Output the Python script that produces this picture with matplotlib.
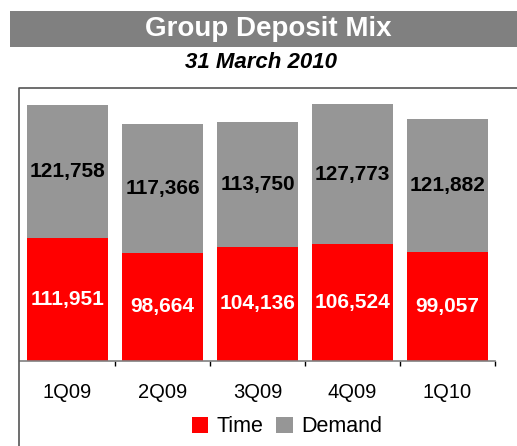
import matplotlib
matplotlib.use('Agg')
import matplotlib.pyplot as plt
from matplotlib.patches import Rectangle
from matplotlib.lines import Line2D
import numpy as np

# --- Data ---
quarters = ['1Q09', '2Q09', '3Q09', '4Q09', '1Q10']
time_dep = [111951, 98664, 104136, 106524, 99057]
demand_dep = [121758, 117366, 113750, 127773, 121882]

RED = '#ff0000'
GREY = '#969696'
W, H = 517, 446

plt.rcParams['font.family'] = ['Liberation Sans', 'DejaVu Sans']

fig = plt.figure(figsize=(W / 100, H / 100), dpi=100)

# title bar
fig.patches.append(Rectangle((10 / W, 1 - 47 / H), (W - 10) / W, 36 / H,
                             transform=fig.transFigure, facecolor='#808080',
                             edgecolor='none'))
fig.text(268 / W, 1 - 29 / H, 'Group Deposit Mix', color='white',
         fontsize=20, fontweight='bold', ha='center', va='center')
fig.text(261 / W, 1 - 63 / H, '31 March 2010', color='black',
         fontsize=16, fontweight='bold', style='italic', ha='center', va='center')

# chart frame (left and top edges)
fig.add_artist(Line2D([19 / W, 19 / W, 1], [0, 1 - 88 / H, 1 - 88 / H],
                      transform=fig.transFigure, color='#555555', lw=1.2))

# --- Plot ---
ax = fig.add_axes([20 / W, (H - 361) / H, 475 / W, (361 - 88) / H])
x = np.arange(len(quarters))
b1 = ax.bar(x, time_dep, width=0.85, color=RED, label='Time')
b2 = ax.bar(x, demand_dep, width=0.85, bottom=time_dep, color=GREY, label='Demand')

for i in range(len(quarters)):
    ax.text(x[i], time_dep[i] / 2, f'{time_dep[i]:,}', color='white',
            fontsize=15, fontweight='bold', ha='center', va='center')
    ax.text(x[i], time_dep[i] + demand_dep[i] / 2, f'{demand_dep[i]:,}',
            color='black', fontsize=15, fontweight='bold', ha='center', va='center')

ax.set_xlim(-0.5, len(quarters) - 0.5)
ax.set_ylim(0, 249200)
ax.set_yticks([])
for s in ['left', 'right', 'top']:
    ax.spines[s].set_visible(False)
ax.spines['bottom'].set_color('#808080')
ax.spines['bottom'].set_linewidth(1.2)

ax.set_xticks(x)
ax.set_xticklabels(quarters, fontsize=14.5)
ax.tick_params(axis='x', which='major', length=0, pad=16)
ax.set_xticks(np.arange(0.5, len(quarters)), minor=True)
ax.tick_params(axis='x', which='minor', length=3.5, width=1, color='black', direction='out')
ax.patch.set_alpha(0)

fig.legend(handles=[b1, b2], loc='center', bbox_to_anchor=(287 / W, 1 - 427 / H),
           ncol=2, frameon=False, fontsize=15.5, handlelength=0.75, handleheight=0.75,
           handletextpad=0.4, columnspacing=0.6, borderpad=0)

fig.savefig('out.png', dpi=100)
